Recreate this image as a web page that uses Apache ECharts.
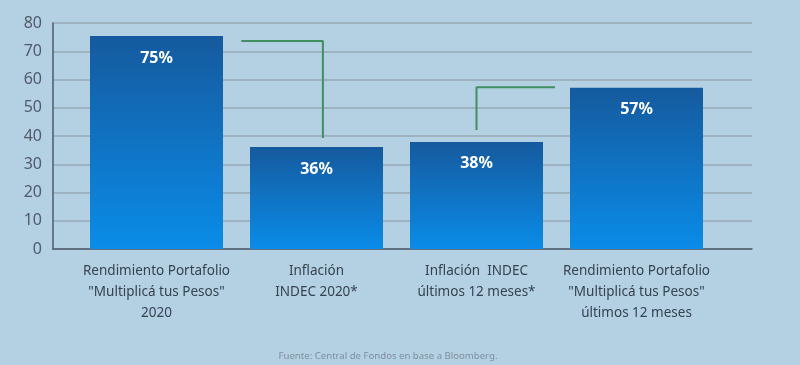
<!DOCTYPE html>
<html><head><meta charset="utf-8">
<script src="https://cdn.jsdelivr.net/npm/echarts@6/dist/echarts.min.js"></script>
<style>html,body{margin:0;padding:0;background:#b4d0e3;}#c{width:800px;height:365px;}</style>
</head><body><div id="c"></div>
<script>
const categories = [
  'Rendimiento Portafolio\n"Multiplicá tus Pesos"\n2020',
  'Inflación\nINDEC 2020*',
  'Inflación  INDEC\núltimos 12 meses*',
  'Rendimiento Portafolio\n"Multiplicá tus Pesos"\núltimos 12 meses'
];
const values = [75.4, 36.1, 37.9, 57.1];
const valueLabels = ['75%', '36%', '38%', '57%'];
const yTicks = [0, 80, 10];
const connector1 = [[0.53, 73.6], [1.04, 73.6], [1.04, 39.3]];
const connector2 = [[2.0, 42.1], [2.0, 57.3], [2.49, 57.3]];
const sourceText = 'Fuente: Central de Fondos en base a Bloomberg.';

const chart = echarts.init(document.getElementById('c'));
const font = 'Noto Sans';
chart.setOption({
  backgroundColor: '#b4d0e3',
  animation: false,
  textStyle: {fontFamily: font},
  grid: [
    {left: 53, right: 48, top: 23, bottom: 116},
    {left: 76.5, width: 640, top: 23, bottom: 116}
  ],
  title: {
    text: sourceText, left: 383, top: 346, textAlign: 'center',
    textStyle: {fontSize: 9.6, fontWeight: 'normal', color: '#7f8f9c', fontFamily: font}
  },
  xAxis: [
    {gridIndex: 0, type: 'value', min: 0, max: 1, axisLabel: {show: false}, axisTick: {show: false},
     splitLine: {show: false}, axisLine: {show: true, lineStyle: {color: '#4d5b69', width: 1.5}}},
    {gridIndex: 1, type: 'category', data: categories, axisLine: {show: false}, axisTick: {show: false},
     axisLabel: {interval: 0, margin: 12, fontSize: 13.5, lineHeight: 21, color: '#35444f', fontFamily: font}},
    {gridIndex: 1, type: 'value', min: -0.5, max: 3.5, show: false}
  ],
  yAxis: [
    {gridIndex: 0, type: 'value', min: yTicks[0], max: yTicks[1], interval: yTicks[2],
     axisLine: {show: true, lineStyle: {color: '#4d5b69', width: 1.5}}, axisTick: {show: false},
     axisLabel: {fontSize: 16, color: '#4f5c69', margin: 11, fontFamily: font},
     splitLine: {lineStyle: {color: '#97a8b5', width: 1.5}}},
    {gridIndex: 1, type: 'value', min: yTicks[0], max: yTicks[1], show: false}
  ],
  series: [
    {type: 'bar', xAxisIndex: 1, yAxisIndex: 1, data: values, barWidth: 133,
     itemStyle: {color: {type: 'linear', x: 0, y: 0, x2: 0, y2: 1,
       colorStops: [{offset: 0, color: '#155a9e'}, {offset: 1, color: '#0a8ce8'}]}},
     label: {show: true, position: 'insideTop', distance: 14, fontSize: 16, fontWeight: 'bold',
       color: '#ffffff', fontFamily: font,
       formatter: p => valueLabels[p.dataIndex]}},
    {type: 'line', xAxisIndex: 2, yAxisIndex: 1, data: connector1, symbol: 'none',
     lineStyle: {color: '#3f8f62', width: 2}},
    {type: 'line', xAxisIndex: 2, yAxisIndex: 1, data: connector2, symbol: 'none',
     lineStyle: {color: '#3f8f62', width: 2}}
  ]
});
</script></body></html>
